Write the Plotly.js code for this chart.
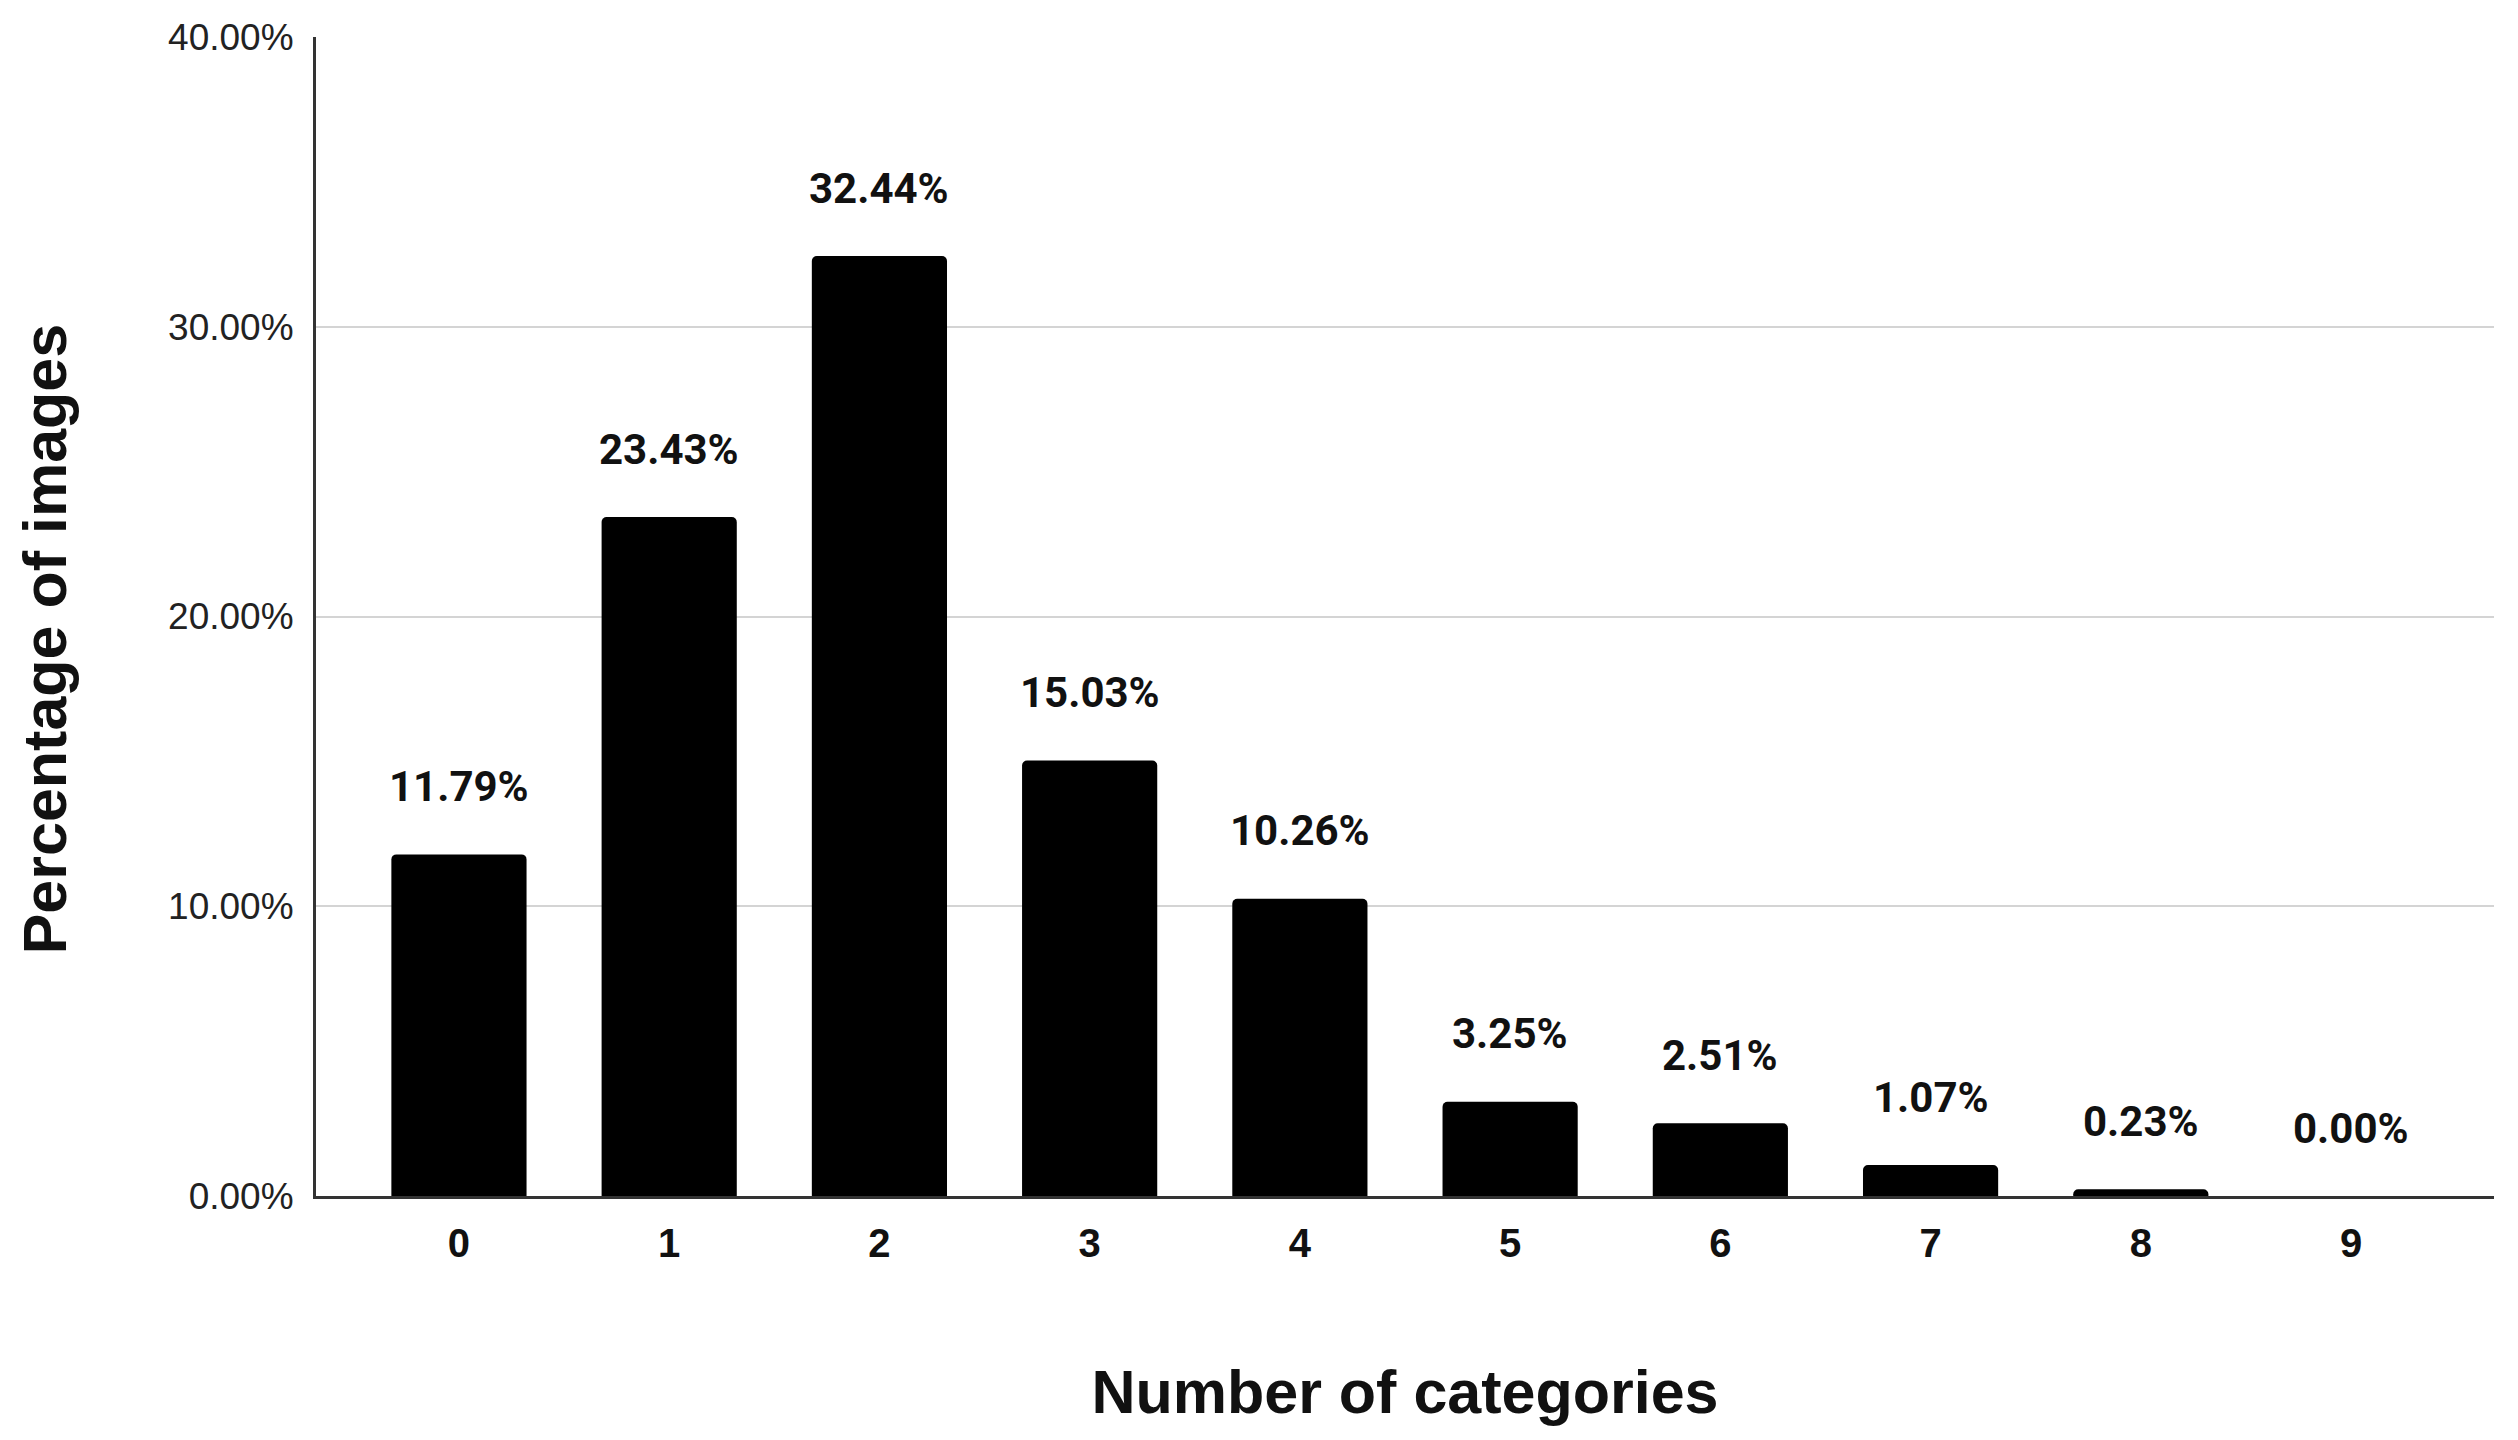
<!DOCTYPE html>
<html>
<head>
<meta charset="utf-8">
<script src="https://cdn.plot.ly/plotly-3.0.1.min.js"></script>
<style>
  html, body { margin: 0; padding: 0; background: #ffffff; }
  #chart { width: 2518px; height: 1440px; }
</style>
</head>
<body>
<div id="chart"></div>
<script>
const categories = ["0", "1", "2", "3", "4", "5", "6", "7", "8", "9"];
const percentages = [11.79, 23.43, 32.44, 15.03, 10.26, 3.25, 2.51, 1.07, 0.23, 0.00];
const yTickValues = [0, 10, 20, 30, 40];
const yTickLabels = ["0.00%", "10.00%", "20.00%", "30.00%", "40.00%"];
const xTitle = "Number of categories";
const yTitle = "Percentage of images";

const trace = {
  type: "bar",
  x: categories,
  y: percentages,
  marker: { color: "#000000", cornerradius: 5, line: { width: 0 } },
  hoverinfo: "skip"
};

const annotations = categories.map((c, i) => ({
  x: c,
  y: percentages[i],
  xref: "x",
  yref: "y",
  text: percentages[i].toFixed(2) + "%",
  showarrow: false,
  yanchor: "middle",
  xanchor: "center",
  yshift: 68,
  font: { family: "Roboto, Arial, sans-serif", size: 42, color: "#111111", weight: "bold" }
}));

annotations.push({
  xref: "paper",
  yref: "paper",
  x: -0.1245,
  y: 0.481,
  xanchor: "center",
  yanchor: "middle",
  textangle: -90,
  showarrow: false,
  text: yTitle,
  font: { family: "Arial, 'Liberation Sans', sans-serif", size: 61, color: "#111111", weight: "bold" }
});

const layout = {
  width: 2518,
  height: 1440,
  paper_bgcolor: "#ffffff",
  plot_bgcolor: "#ffffff",
  showlegend: false,
  margin: { l: 316, r: 24, t: 37, b: 244, autoexpand: false },
  bargap: 0.357,
  xaxis: {
    type: "category",
    range: [-0.68, 9.68],
    showgrid: false,
    zeroline: false,
    showline: true,
    linecolor: "#333333",
    linewidth: 3,
    ticks: "",
    ticklabelstandoff: 10,
    tickfont: { family: "Arial, 'Liberation Sans', sans-serif", size: 40, color: "#111111", weight: "bold" },
    automargin: false,
    title: {
      text: xTitle,
      standoff: 107,
      font: { family: "Arial, 'Liberation Sans', sans-serif", size: 61, color: "#111111", weight: "bold" }
    }
  },
  yaxis: {
    range: [0, 40],
    tickvals: yTickValues,
    ticktext: yTickLabels,
    showgrid: true,
    gridcolor: "#d4d4d4",
    gridwidth: 2,
    zeroline: false,
    showline: true,
    linecolor: "#333333",
    linewidth: 3,
    ticks: "",
    ticklabelstandoff: 12,
    tickfont: { family: "Arial, 'Liberation Sans', sans-serif", size: 37, color: "#222222" },
    automargin: false
  },
  annotations: annotations
};

Plotly.newPlot("chart", [trace], layout, { displayModeBar: false, staticPlot: true });
</script>
</body>
</html>
